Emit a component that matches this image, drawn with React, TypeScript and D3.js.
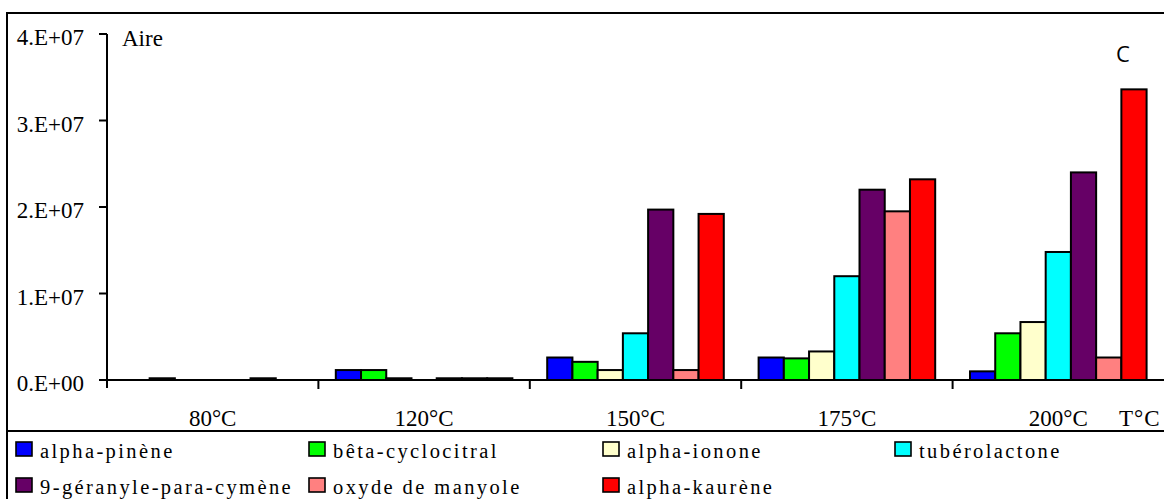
import React from "react";
import * as d3 from "d3";

const categories = ["80°C", "120°C", "150°C", "175°C", "200°C"];
const seriesNames = [
  "alpha-pinène",
  "bêta-cyclocitral",
  "alpha-ionone",
  "tubérolactone",
  "9-géranyle-para-cymène",
  "oxyde de manyole",
  "alpha-kaurène",
];
const seriesColors = ["#0000FF", "#00FF00", "#FFFFCC", "#00FFFF", "#660066", "#FF8080", "#FF0000"];
const alphaPinene = [0, 1.15e6, 2.6e6, 2.6e6, 1.0e6];
const betaCyclocitral = [2e5, 1.15e6, 2.1e6, 2.5e6, 5.4e6];
const alphaIonone = [0, 2e5, 1.15e6, 3.3e6, 6.7e6];
const tuberolactone = [0, 0, 5.4e6, 1.2e7, 1.48e7];
const geranyleCymene = [0, 2e5, 1.97e7, 2.2e7, 2.4e7];
const oxydeManyole = [2e5, 2e5, 1.15e6, 1.95e7, 2.6e6];
const alphaKaurene = [0, 2e5, 1.92e7, 2.32e7, 3.36e7];
const seriesValues = [alphaPinene, betaCyclocitral, alphaIonone, tuberolactone, geranyleCymene, oxydeManyole, alphaKaurene];
const yTicks = [0, 1e7, 2e7, 3e7, 4e7];
const yTickLabels = ["0.E+00", "1.E+07", "2.E+07", "3.E+07", "4.E+07"];

const W = 1164;
const H = 499;
const plotLeft = 107;
const plotRight = 1164;
const plotTop = 34;
const plotBottom = 380;
const serifStyle = { fontFamily: '"Liberation Serif", "DejaVu Serif", "Times New Roman", serif' };
const sansStyle = { fontFamily: '"Open Sans", "Noto Sans", sans-serif' };

export default function App() {
  const x = d3.scaleBand<string>().domain(categories).range([plotLeft, plotRight]).paddingInner(0).paddingOuter(0);
  const inner = d3
    .scaleBand<number>()
    .domain(d3.range(seriesNames.length))
    .range([0, x.bandwidth()])
    .paddingOuter(0.69)
    .paddingInner(0);
  const y = d3.scaleLinear().domain([0, 4e7]).range([plotBottom, plotTop]);

  const legendCols = [16, 309, 603, 895];
  const legendRows = [442, 478];

  return (
    <svg
      width={W}
      height={H}
      style={{ position: "absolute", left: 0, top: 0, background: "#fff" }}
    >
      <rect x={0} y={0} width={W} height={H} fill="#fff" />
      {/* outer frame */}
      <rect x={7} y={13} width={W + 20} height={H + 20} fill="none" stroke="#000" strokeWidth={2} />
      <line x1={7} x2={W} y1={431} y2={431} stroke="#000" strokeWidth={2} />

      {/* bars */}
      {categories.map((c, ci) =>
        seriesValues.map((vals, si) => {
          const v = vals[ci];
          if (!v) return null;
          const bx = (x(c) as number) + (inner(si) as number);
          const by = y(v);
          return (
            <rect
              key={`${ci}-${si}`}
              x={bx}
              y={by}
              width={inner.bandwidth()}
              height={plotBottom - by}
              fill={seriesColors[si]}
              stroke="#000"
              strokeWidth={2}
            />
          );
        })
      )}

      {/* y axis */}
      <line x1={plotLeft} x2={plotLeft} y1={plotTop} y2={plotBottom + 8} stroke="#000" strokeWidth={2} />
      {yTicks.map((t, i) => (
        <g key={t}>
          <line x1={plotLeft - 8} x2={plotLeft} y1={y(t)} y2={y(t)} stroke="#000" strokeWidth={2} />
          <text x={84} y={y(t) + 11} textAnchor="end" style={serifStyle} fontSize={23} fill="#000">
            {yTickLabels[i]}
          </text>
        </g>
      ))}
      <text x={122} y={46} style={serifStyle} fontSize={23} fill="#000">Aire</text>

      {/* x axis */}
      <line x1={plotLeft} x2={plotRight} y1={plotBottom} y2={plotBottom} stroke="#000" strokeWidth={2} />
      {categories.map((c, i) =>
        i > 0 ? (
          <line key={c} x1={x(c) as number} x2={x(c) as number} y1={plotBottom} y2={plotBottom + 9} stroke="#000" strokeWidth={2} />
        ) : null
      )}
      {categories.map((c) => (
        <text
          key={c}
          x={(x(c) as number) + x.bandwidth() / 2}
          y={426}
          textAnchor="middle"
          style={serifStyle}
          fontSize={23}
          fill="#000"
        >
          {c}
        </text>
      ))}
      <text x={1119} y={426} style={serifStyle} fontSize={23} letterSpacing={1} fill="#000">T°C</text>

      <text x={1123} y={62} textAnchor="middle" style={sansStyle} fontSize={22} fill="#000">C</text>

      {/* legend */}
      {seriesNames.map((name, i) => {
        const col = i % 4;
        const row = Math.floor(i / 4);
        const lx = legendCols[col];
        const ly = legendRows[row];
        return (
          <g key={name}>
            <rect x={lx} y={ly} width={16} height={14} fill={seriesColors[i]} stroke="#000" strokeWidth={1.6} />
            <text x={lx + 24} y={ly + 16} style={serifStyle} fontSize={20.5} letterSpacing={2.4} fill="#000">
              {name}
            </text>
          </g>
        );
      })}
    </svg>
  );
}
